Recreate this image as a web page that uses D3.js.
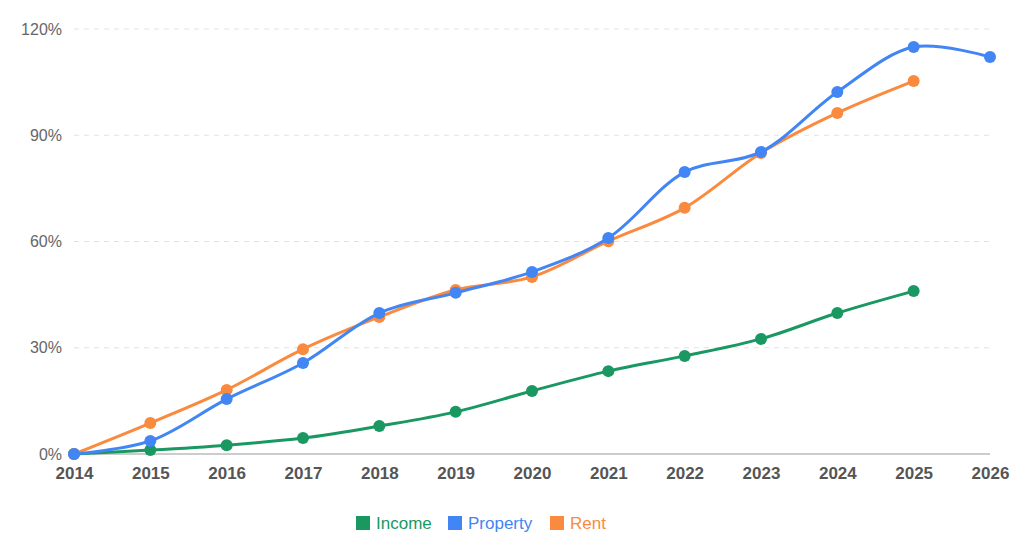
<!DOCTYPE html>
<html>
<head>
<meta charset="utf-8">
<script src="https://cdn.jsdelivr.net/npm/d3@7"></script>
<style>
  body { margin: 0; background: #fff; }
  svg { display: block; font-family: "Liberation Sans", Arial, sans-serif; }
</style>
</head>
<body>
<svg id="chart" width="1024" height="546"></svg>
<script>
const years = [2014, 2015, 2016, 2017, 2018, 2019, 2020, 2021, 2022, 2023, 2024, 2025, 2026];
const income = [0, 1.1, 2.5, 4.5, 7.9, 11.9, 17.8, 23.4, 27.7, 32.5, 39.8, 46.0, null];
const property = [0, 3.7, 15.5, 25.7, 39.8, 45.5, 51.4, 61.0, 79.6, 85.3, 102.2, 114.9, 112.1];
const rent = [0, 8.75, 18.1, 29.6, 38.7, 46.3, 50.0, 60.1, 69.5, 85.0, 96.3, 105.3, null];
const yTicks = [0, 30, 60, 90, 120];

const series = [
  { name: "Income", values: income, color: "#1a9862" },
  { name: "Property", values: property, color: "#4285f4" },
  { name: "Rent", values: rent, color: "#fa8a3e" }
];
// drawing order: property on top
const drawOrder = [0, 2, 1];

const width = 1024, height = 546;
const margin = { top: 29, right: 34, bottom: 92, left: 74 };
const svg = d3.select("#chart");

const x = d3.scaleLinear()
  .domain([years[0], years[years.length - 1]])
  .range([margin.left, width - margin.right]);

const y = d3.scaleLinear()
  .domain([0, 120])
  .range([height - margin.bottom, margin.top]);

// grid lines
svg.append("g")
  .selectAll("line")
  .data(yTicks.filter(d => d > 0))
  .join("line")
  .attr("x1", x.range()[0])
  .attr("x2", x.range()[1])
  .attr("y1", d => y(d))
  .attr("y2", d => y(d))
  .attr("stroke", "#e2e2e2")
  .attr("stroke-width", 1)
  .attr("stroke-dasharray", "5,5");

// baseline
svg.append("line")
  .attr("x1", x.range()[0])
  .attr("x2", x.range()[1])
  .attr("y1", y(0))
  .attr("y2", y(0))
  .attr("stroke", "#cccccc")
  .attr("stroke-width", 2);

// y axis labels
const gY = svg.append("g")
  .attr("transform", "translate(" + (margin.left - 12) + ",0)")
  .call(d3.axisLeft(y).tickValues(yTicks).tickFormat(d => d + "%").tickSize(0).tickPadding(0));
gY.select(".domain").remove();
gY.selectAll("text")
  .attr("fill", "#666")
  .style("font-size", "16px")
  .style("font-family", "Liberation Sans, Arial, sans-serif");

// x axis labels
const gX = svg.append("g")
  .attr("transform", "translate(0," + (y(0) + 7) + ")")
  .call(d3.axisBottom(x).tickValues(years).tickFormat(d3.format("d")).tickSize(0).tickPadding(6));
gX.select(".domain").remove();
gX.selectAll("text")
  .attr("fill", "#555")
  .style("font-size", "17px")
  .style("font-weight", "bold")
  .style("font-family", "Liberation Sans, Arial, sans-serif");

// lines
const line = d3.line()
  .defined(d => d.v != null)
  .x(d => x(d.year))
  .y(d => y(d.v))
  .curve(d3.curveCatmullRom.alpha(0.5));

const gLines = svg.append("g");
drawOrder.forEach(k => {
  const s = series[k];
  const pts = years.map((yr, i) => ({ year: yr, v: s.values[i] })).filter(d => d.v != null);
  gLines.append("path")
    .datum(pts)
    .attr("d", line)
    .attr("fill", "none")
    .attr("stroke", s.color)
    .attr("stroke-width", 3)
    .attr("stroke-linejoin", "round");
  gLines.append("g")
    .selectAll("circle")
    .data(pts)
    .join("circle")
    .attr("cx", d => x(d.year))
    .attr("cy", d => y(d.v))
    .attr("r", 6)
    .attr("fill", s.color);
});

// legend
const legendX = [356, 448, 550];
const gLegend = svg.append("g").attr("transform", "translate(0,523)");
series.forEach((s, i) => {
  gLegend.append("rect")
    .attr("x", legendX[i])
    .attr("y", -7)
    .attr("width", 14)
    .attr("height", 14)
    .attr("fill", s.color);
  gLegend.append("text")
    .attr("x", legendX[i] + 20)
    .attr("y", 6)
    .attr("fill", s.color)
    .style("font-size", "17px")
    .text(s.name);
});
</script>
</body>
</html>
